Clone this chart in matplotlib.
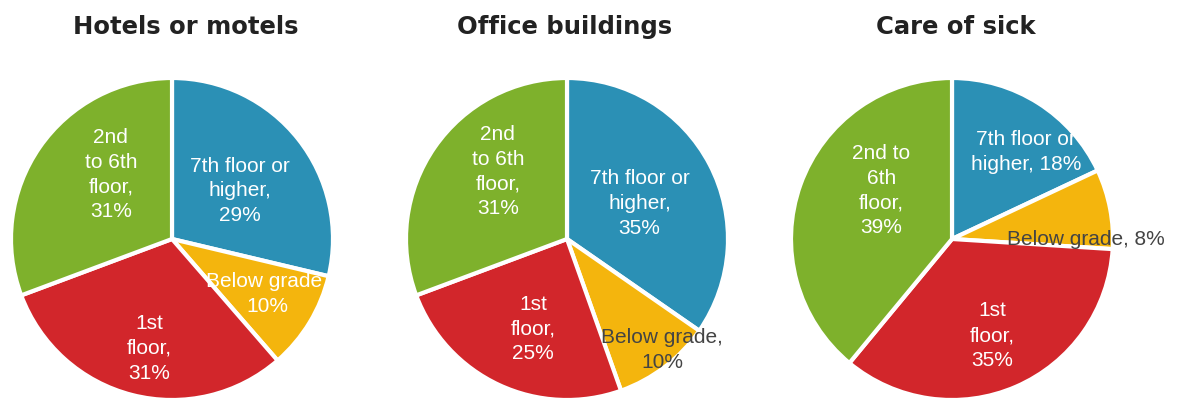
import matplotlib
matplotlib.use("Agg")
import matplotlib.pyplot as plt

# ---- data ----
titles = ["Hotels or motels", "Office buildings", "Care of sick"]
categories = ["7th floor or higher", "Below grade", "1st floor", "2nd to 6th floor"]
hotels = [29, 10, 31, 31]
offices = [35, 10, 25, 31]
care = [18, 8, 35, 39]
label_texts = [
    ["7th floor or\nhigher,\n29%", "Below grade,\n10%", "1st\nfloor,\n31%", "2nd\nto 6th\nfloor,\n31%"],
    ["7th floor or\nhigher,\n35%", "Below grade,\n10%", "1st\nfloor,\n25%", "2nd\nto 6th\nfloor,\n31%"],
    ["7th floor or\nhigher, 18%", "Below grade, 8%", "1st\nfloor,\n35%", "2nd to\n6th\nfloor,\n39%"],
]

# ---- style ----
colors = ["#2b90b5", "#f4b50d", "#d2262b", "#7eb12c"]
label_colors = [
    ["white", "white", "white", "white"],
    ["white", "#444444", "white", "white"],
    ["white", "#444444", "white", "white"],
]
# label positions (fraction of radius, in axes data units)
label_pos = [
    [(0.42, 0.30), (0.59, -0.34), (-0.14, -0.68), (-0.38, 0.40)],
    [(0.45, 0.22), (0.59, -0.69), (-0.21, -0.56), (-0.43, 0.42)],
    [(0.46, 0.54), (0.83, 0.0), (0.25, -0.60), (-0.44, 0.30)],
]
centers_px = [(172, 239), (567, 239), (952, 239)]
radius_px = 161
title_x_px = [186, 565, 956]

W, H = 1179, 411
fig = plt.figure(figsize=(W / 100, H / 100), dpi=100)
fig.patch.set_facecolor("white")

all_values = [hotels, offices, care]
for i, vals in enumerate(all_values):
    cx, cy = centers_px[i]
    ax = fig.add_axes([(cx - radius_px) / W, (H - cy - radius_px) / H,
                       2 * radius_px / W, 2 * radius_px / H])
    ax.pie(vals, colors=colors, startangle=90, counterclock=False,
           wedgeprops=dict(edgecolor="white", linewidth=3), radius=1.0)
    ax.set_xlim(-1, 1)
    ax.set_ylim(-1, 1)
    ax.set_aspect("equal")
    ax.axis("off")
    for j, txt in enumerate(label_texts[i]):
        x, y = label_pos[i][j]
        ax.text(x, y, txt, ha="center", va="center", fontsize=15,
                color=label_colors[i][j], family="Liberation Sans",
                linespacing=1.38, clip_on=False)
    fig.text(title_x_px[i] / W, 1 - 27 / H, titles[i], ha="center", va="center",
             fontsize=17.5, fontweight="bold", color="#222222", family="DejaVu Sans")

fig.savefig("out.png", dpi=100, facecolor="white")
